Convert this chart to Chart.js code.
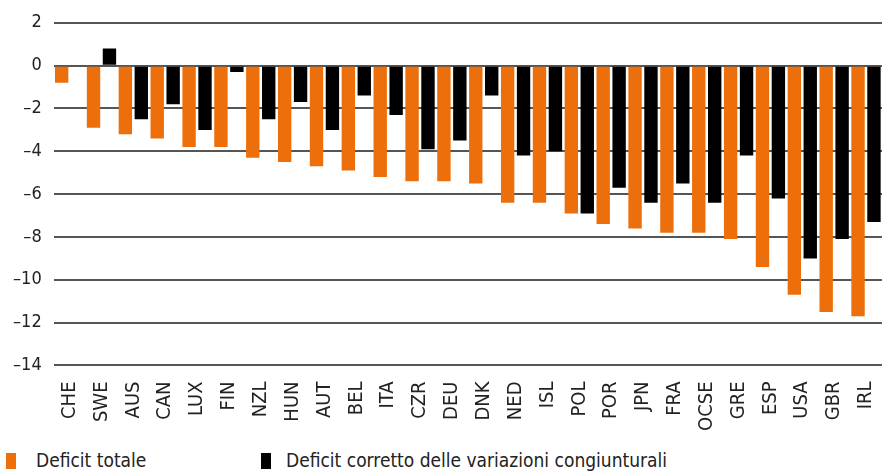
<!DOCTYPE html>
<html>
<head>
<meta charset="utf-8">
<script src="https://cdn.jsdelivr.net/npm/chart.js@4.4.1/dist/chart.umd.min.js"></script>
<style>
  html, body { margin: 0; padding: 0; background: #fff; }
  #wrap { position: relative; width: 893px; height: 473px; overflow: hidden; }
  #chart { position: absolute; left: 0; top: 0; }
  .legend { position: absolute; top: 449px; font-family: "DejaVu Sans Condensed", sans-serif; font-size: 19px; color: #222; }
  .legend span.box { display: inline-block; width: 10px; height: 16px; vertical-align: -2px; margin-right: 20px; }
  .legend.nero span.box { margin-right: 15px; }
</style>
</head>
<body>
<div id="wrap">
  <canvas id="chart" width="906" height="447"></canvas>
  <div class="legend" style="left:6px"><span class="box" style="background:#ec6f0b"></span>Deficit totale</div>
  <div class="legend nero" style="left:261px"><span class="box" style="background:#000"></span>Deficit corretto delle variazioni congiunturali</div>
</div>
<script>
// paesi e valori (% del PIL)
var countries = ['CHE', 'SWE', 'AUS', 'CAN', 'LUX', 'FIN', 'NZL', 'HUN', 'AUT', 'BEL', 'ITA', 'CZR', 'DEU',
  'DNK', 'NED', 'ISL', 'POL', 'POR', 'JPN', 'FRA', 'OCSE', 'GRE', 'ESP', 'USA', 'GBR', 'IRL'];
var deficitTotale = [-0.8, -2.9, -3.2, -3.4, -3.8, -3.8, -4.3, -4.5, -4.7, -4.9, -5.2, -5.4, -5.4,
  -5.5, -6.4, -6.4, -6.9, -7.4, -7.6, -7.8, -7.8, -8.1, -9.4, -10.7, -11.5, -11.7];
var deficitCorretto = [null, 0.8, -2.5, -1.8, -3.0, -0.3, -2.5, -1.7, -3.0, -1.4, -2.3, -3.9, -3.5,
  -1.4, -4.2, -4.0, -6.9, -5.7, -6.4, -5.5, -6.4, -4.2, -6.2, -9.0, -8.1, -7.3];
var yTicks = [2, 0, -2, -4, -6, -8, -10, -12, -14];

var font = '"DejaVu Sans Condensed", sans-serif';

new Chart(document.getElementById('chart').getContext('2d'), {
  type: 'bar',
  data: {
    labels: countries,
    datasets: [{
      label: 'Deficit totale',
      data: deficitTotale,
      backgroundColor: '#ec6f0b'
    }, {
      label: 'Deficit corretto delle variazioni congiunturali',
      data: deficitCorretto,
      backgroundColor: '#000'
    }]
  },
  options: {
    responsive: false,
    animation: false,
    layout: { padding: { left: 1, right: 0, top: 16, bottom: 0 } },
    datasets: { bar: { categoryPercentage: 1, barPercentage: 0.84 } },
    plugins: { legend: { display: false }, tooltip: { enabled: false } },
    scales: {
      x: {
        grid: { display: false, drawTicks: false },
        border: { display: false },
        ticks: {
          color: '#222',
          font: { family: font, size: 20 },
          minRotation: 90,
          maxRotation: 90,
          autoSkip: false,
          padding: 16
        }
      },
      y: {
        min: -14,
        max: 2,
        afterBuildTicks: function (axis) {
          axis.ticks = yTicks.map(function (v) { return { value: v }; });
        },
        grid: { color: '#555', lineWidth: 2, drawTicks: false },
        border: { display: false },
        ticks: {
          color: '#222',
          font: { family: font, size: 18 },
          padding: 12,
          callback: function (v) { return String(v).replace('-', '\u2013'); }
        }
      }
    }
  }
});
</script>
</body>
</html>
